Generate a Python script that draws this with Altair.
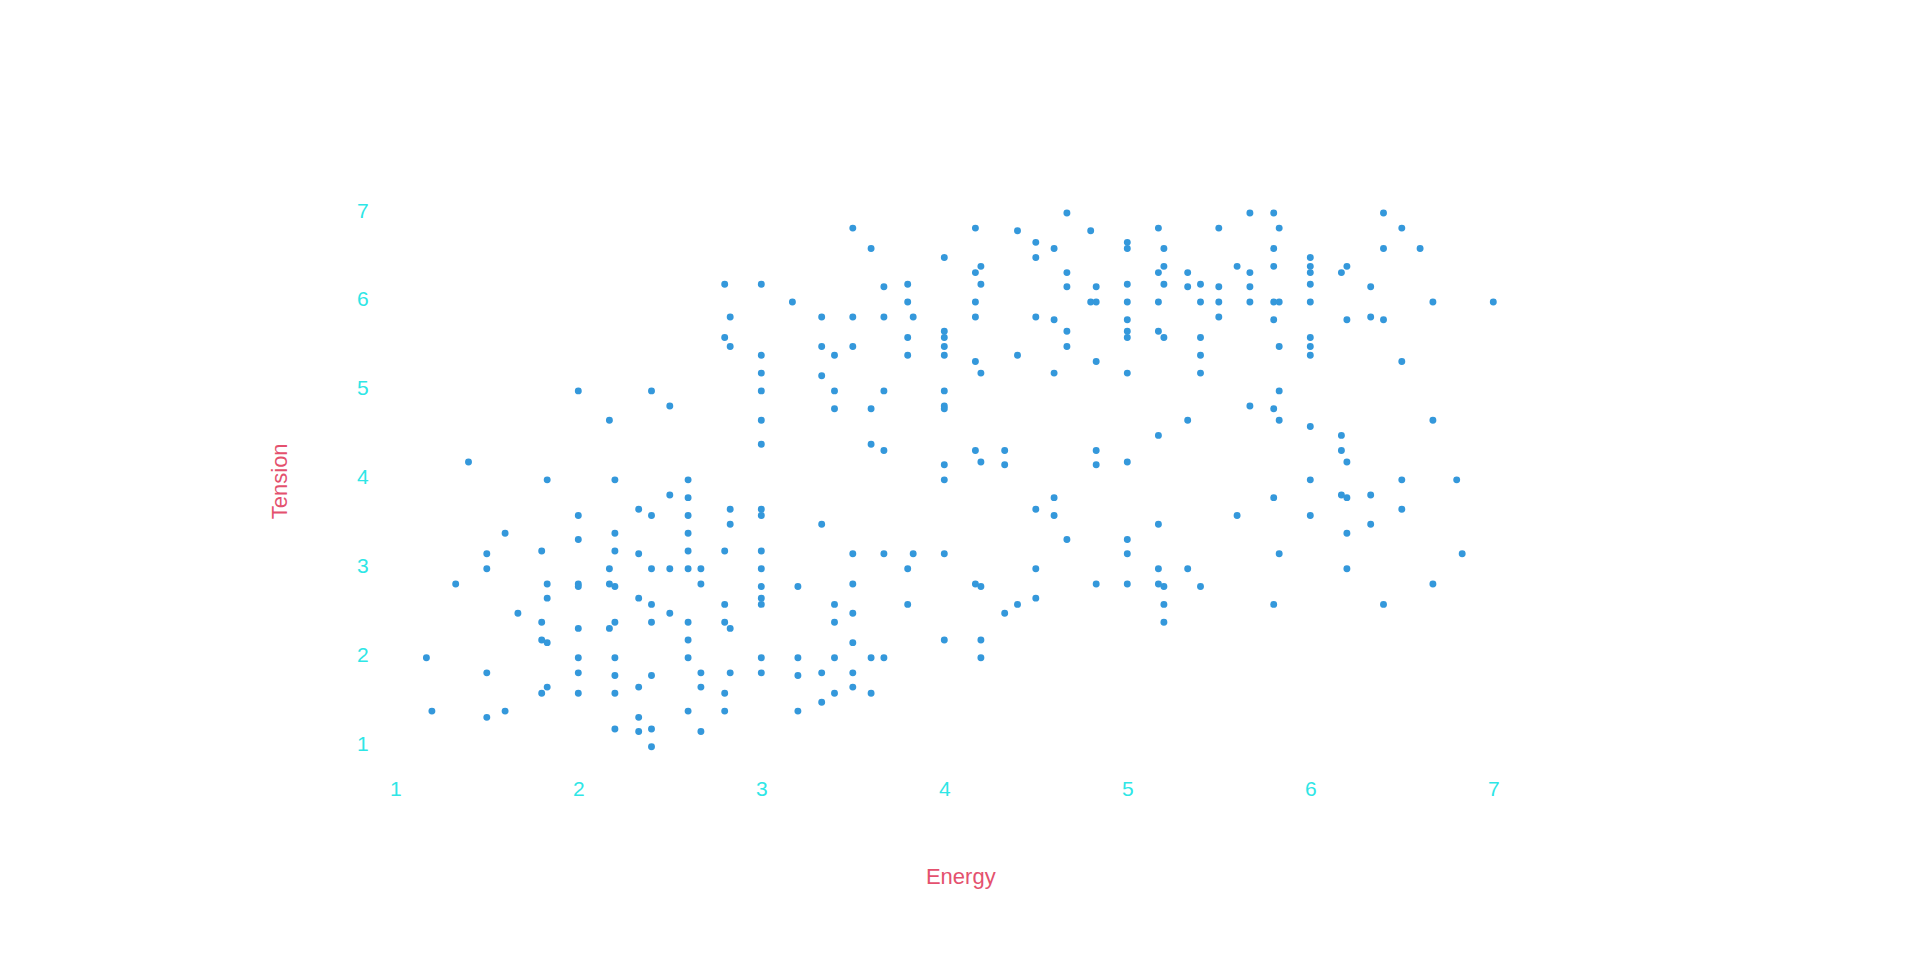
import altair as alt
import pandas as pd

# Energy (x) and Tension (y) values, grouped by region
energy = [
    # upper left
    2.80, 2.83, 2.80, 2.83, 2.00, 2.40, 2.50, 2.17,
    # upper middle
    4.67, 3.50, 4.17, 4.40, 4.80, 3.60, 4.50, 4.60, 4.00, 4.50, 4.20, 4.17, 4.67,
    3.00, 3.67, 3.80, 4.20, 4.67, 4.83, 3.17, 3.80, 4.17, 4.80, 4.83,
    3.33, 3.50, 3.67, 3.83, 4.17, 4.50, 4.60, 4.00, 4.67, 3.80, 4.00,
    3.33, 3.50, 4.00, 4.67, 3.00, 3.40, 3.80, 4.00, 4.40, 4.17, 4.83,
    3.00, 3.33, 4.20, 4.60, 3.00, 3.40, 3.67, 4.00, 3.40, 3.60, 4.00, 4.00,
    3.00, 3.00, 3.60, 3.67, 4.17, 4.33, 4.83,
    # upper right
    5.67, 5.80, 6.40, 5.17, 5.50, 5.83, 6.50, 5.00, 5.00, 5.20, 5.80, 6.40, 6.60,
    6.00, 5.20, 5.60, 5.80, 6.00, 6.20, 5.17, 5.33, 5.67, 6.00, 6.17,
    5.00, 5.20, 5.33, 5.40, 5.50, 5.67, 6.00, 6.33,
    5.00, 5.17, 5.40, 5.50, 5.67, 5.80, 5.83, 6.00, 6.67, 7.00,
    5.00, 5.50, 5.80, 6.20, 6.33, 6.40, 5.00, 5.00, 5.17, 5.20, 5.40,
    5.83, 6.00, 6.00, 5.40, 6.00, 6.50, 5.00, 5.40, 5.83, 5.67, 5.80,
    5.33, 5.83, 6.67, 6.00, 5.17, 6.17, 6.17,
    # lower left
    1.40, 1.83, 2.20, 2.60, 2.50, 2.60, 2.33, 2.40, 2.60, 2.83, 2.83, 2.00, 2.00,
    1.60, 2.20, 2.60, 1.50, 1.80, 2.20, 2.33, 2.60, 2.80,
    1.50, 2.17, 2.40, 2.50, 2.60, 2.67,
    1.33, 1.83, 2.00, 2.00, 2.17, 2.20, 2.67, 1.83, 2.33, 2.40, 2.80,
    1.67, 2.50, 1.80, 2.20, 2.40, 2.60, 2.80, 2.83, 2.00, 2.17,
    1.80, 1.83, 2.60, 1.17, 2.00, 2.20, 2.60,
    1.50, 2.00, 2.20, 2.40, 2.67, 2.83, 1.83, 1.80, 2.00, 2.20, 2.33, 2.67, 2.80,
    1.20, 1.50, 1.60, 2.60, 2.80, 2.33, 2.20, 2.33, 2.40, 2.67, 2.40,
    # lower middle
    4.00, 4.20, 4.33, 4.83, 4.00, 4.60, 4.50, 4.60, 3.00, 3.00, 3.33, 4.67,
    3.00, 3.50, 3.67, 3.83, 4.00, 3.00, 3.80, 4.50,
    3.00, 3.20, 3.50, 4.17, 4.20, 4.83, 3.00, 3.00, 3.40, 3.80, 4.50, 4.40,
    3.50, 4.33, 3.40, 3.50, 4.00, 4.20,
    3.00, 3.20, 3.40, 3.60, 3.67, 4.20, 3.00, 3.20, 3.33, 3.50, 3.50,
    3.40, 3.60, 3.33, 3.20,
    # lower right
    5.00, 6.20, 6.00, 6.50, 6.80, 5.80, 6.17, 6.20, 6.33, 6.50, 5.60, 6.00,
    5.17, 6.33, 5.00, 6.20, 5.00, 5.83, 6.83, 5.17, 5.33, 6.20,
    5.00, 5.17, 5.20, 5.40, 6.67, 5.20, 5.80, 6.40, 5.20,
]

tension = [
    # upper left
    6.20, 5.83, 5.60, 5.50, 5.00, 5.00, 4.83, 4.67,
    # upper middle
    7.00, 6.83, 6.83, 6.80, 6.80, 6.60, 6.67, 6.60, 6.50, 6.50, 6.40, 6.33, 6.33,
    6.20, 6.17, 6.20, 6.20, 6.17, 6.17, 6.00, 6.00, 6.00, 6.00, 6.00,
    5.83, 5.83, 5.83, 5.83, 5.83, 5.83, 5.80, 5.67, 5.67, 5.60, 5.60,
    5.50, 5.50, 5.50, 5.50, 5.40, 5.40, 5.40, 5.40, 5.40, 5.33, 5.33,
    5.20, 5.17, 5.20, 5.20, 5.00, 5.00, 5.00, 5.00, 4.80, 4.80, 4.83, 4.80,
    4.67, 4.40, 4.40, 4.33, 4.33, 4.33, 4.33,
    # upper right
    7.00, 7.00, 7.00, 6.83, 6.83, 6.83, 6.83, 6.67, 6.60, 6.60, 6.60, 6.60, 6.60,
    6.50, 6.40, 6.40, 6.40, 6.40, 6.40, 6.33, 6.33, 6.33, 6.33, 6.33,
    6.20, 6.20, 6.17, 6.20, 6.17, 6.17, 6.20, 6.17,
    6.00, 6.00, 6.00, 6.00, 6.00, 6.00, 6.00, 6.00, 6.00, 6.00,
    5.80, 5.83, 5.80, 5.80, 5.83, 5.80, 5.67, 5.60, 5.67, 5.60, 5.60,
    5.50, 5.60, 5.50, 5.40, 5.40, 5.33, 5.20, 5.20, 5.00, 4.83, 4.80,
    4.67, 4.67, 4.67, 4.60, 4.50, 4.50, 4.33,
    # lower left
    4.20, 4.00, 4.00, 4.00, 3.83, 3.80, 3.67, 3.60, 3.60, 3.67, 3.50, 3.60, 3.33,
    3.40, 3.40, 3.40, 3.17, 3.20, 3.20, 3.17, 3.20, 3.20,
    3.00, 3.00, 3.00, 3.00, 3.00, 3.00,
    2.83, 2.83, 2.83, 2.80, 2.83, 2.80, 2.83, 2.67, 2.67, 2.60, 2.60,
    2.50, 2.50, 2.40, 2.40, 2.40, 2.40, 2.40, 2.33, 2.33, 2.33,
    2.20, 2.17, 2.20, 2.00, 2.00, 2.00, 2.00,
    1.83, 1.83, 1.80, 1.80, 1.83, 1.83, 1.67, 1.60, 1.60, 1.60, 1.67, 1.67, 1.60,
    1.40, 1.33, 1.40, 1.40, 1.40, 1.33, 1.20, 1.17, 1.20, 1.17, 1.00,
    # lower middle
    4.17, 4.20, 4.17, 4.17, 4.00, 3.80, 3.67, 3.60, 3.67, 3.60, 3.50, 3.33,
    3.20, 3.17, 3.17, 3.17, 3.17, 3.00, 3.00, 3.00,
    2.80, 2.80, 2.83, 2.83, 2.80, 2.83, 2.67, 2.60, 2.60, 2.60, 2.67, 2.60,
    2.50, 2.50, 2.40, 2.17, 2.20, 2.20,
    2.00, 2.00, 2.00, 2.00, 2.00, 2.00, 1.83, 1.80, 1.83, 1.83, 1.67,
    1.60, 1.60, 1.50, 1.40,
    # lower right
    4.20, 4.20, 4.00, 4.00, 4.00, 3.80, 3.83, 3.80, 3.83, 3.67, 3.60, 3.60,
    3.50, 3.50, 3.33, 3.40, 3.17, 3.17, 3.17, 3.00, 3.00, 3.00,
    2.83, 2.83, 2.80, 2.80, 2.83, 2.60, 2.60, 2.60, 2.40,
]

tick_values = [1, 2, 3, 4, 5, 6, 7]

df = pd.DataFrame({"Energy": energy, "Tension": tension})

label_color = "#2ee6e6"
title_color = "#e4516e"
font = "Liberation Sans"

chart = (
    alt.Chart(df)
    .mark_circle(size=48, opacity=1, color="#3498db")
    .encode(
        x=alt.X(
            "Energy:Q",
            scale=alt.Scale(domain=[1, 7], nice=False, zero=False),
            axis=alt.Axis(
                values=tick_values,
                title="Energy",
                labelPadding=31.5,
                labelFlush=False,
                titleX=565,
                titleY=136.6,
                titleBaseline="alphabetic",
                titleAlign="center",
            ),
        ),
        y=alt.Y(
            "Tension:Q",
            scale=alt.Scale(domain=[1, 7], nice=False, zero=False),
            axis=alt.Axis(
                values=tick_values,
                title="Tension",
                labelPadding=27,
                labelFlush=False,
                labelOffset=-2,
                titleX=-108.6,
                titleY=267.8,
                titleBaseline="alphabetic",
                titleAlign="center",
            ),
        ),
    )
    .properties(
        width=1098,
        height=533.7,
        autosize=alt.AutoSizeParams(type="none"),
        padding={"left": 395.3, "top": 213, "right": 426.7, "bottom": 213.3},
    )
    .configure_view(stroke=None)
    .configure_axis(
        grid=False,
        domain=False,
        ticks=False,
        tickSize=0,
        labelColor=label_color,
        titleColor=title_color,
        labelFont=font,
        titleFont=font,
        labelFontSize=21,
        titleFontSize=22,
        titleFontWeight="normal",
    )
)

chart.save("out.html", embed_options={"renderer": "svg", "actions": False})
